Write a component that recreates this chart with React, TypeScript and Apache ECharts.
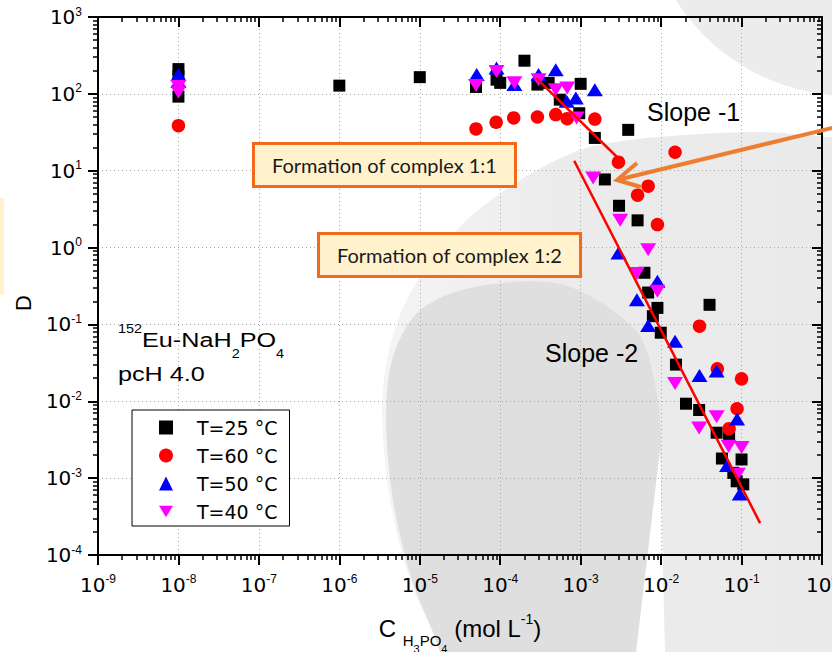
import React, { useEffect, useRef } from 'react';
import * as echarts from 'echarts';

// Distribution ratio D of 152Eu vs. phosphate concentration, four temperatures
const seriesNames = ['T=25 °C', 'T=60 °C', 'T=50 °C', 'T=40 °C'];

const t25: number[][] = [
  [1e-8, 210], [1e-8, 170], [1e-8, 92], [1e-6, 128], [1e-5, 165], [5e-5, 123],
  [9e-5, 153], [1e-4, 139], [2e-4, 270], [2.9e-4, 132], [4e-4, 139], [5.5e-4, 84],
  [1e-3, 135], [9.6e-4, 56], [1.5e-3, 26.7], [3.9e-3, 34], [2e-3, 7.7], [3e-3, 3.5],
  [5.1e-3, 2.26], [6.2e-3, 0.47], [6.9e-3, 0.26], [9e-3, 0.164], [7.9e-3, 0.128],
  [9.9e-3, 0.078], [0.04, 0.18], [0.0153, 0.03], [0.0204, 0.0093], [0.0297, 0.0077],
  [0.049, 0.0039], [0.07, 0.0035], [0.057, 0.0018], [0.1, 0.00175], [0.079, 0.00117],
  [0.105, 0.00083], [0.087, 0.00091],
];

const t60: number[][] = [
  [1e-8, 38.6], [5e-5, 35], [8.9e-5, 42.7], [1.47e-4, 48.6], [2.9e-4, 50], [4.9e-4, 53.7],
  [6.8e-4, 47.6], [1.5e-3, 47], [2.95e-3, 12.9], [6.9e-3, 6.3], [5.1e-3, 4.8],
  [0.0149, 17.4], [9e-3, 1.99], [0.03, 0.095], [0.05, 0.0265], [0.1, 0.0196],
  [0.088, 0.008], [0.07, 0.0044],
];

const t50: number[][] = [
  [1e-8, 178], [1e-8, 145], [5.1e-5, 178], [9e-5, 217], [1.5e-4, 132], [3e-4, 178],
  [4.9e-4, 206], [6.7e-4, 80], [8.7e-4, 88], [1.5e-3, 113], [2.95e-3, 0.85],
  [9e-3, 0.365], [5e-3, 0.21], [6.9e-3, 0.097], [0.0149, 0.0605], [0.03, 0.0217],
  [0.049, 0.0247], [0.088, 0.0059], [0.066, 0.00146], [0.095, 0.00062],
];

const t40: number[][] = [
  [1e-8, 125], [1e-8, 105], [5e-5, 128], [9e-5, 196], [1.5e-4, 139], [3e-4, 153],
  [4.9e-4, 113], [6.8e-4, 119], [8.9e-4, 48.6], [1.43e-3, 8.05], [3.1e-3, 2.26],
  [6.9e-3, 0.94], [5e-3, 0.46], [9e-3, 0.27], [0.0149, 0.017], [0.0297, 0.0045],
  [0.049, 0.0063], [0.069, 0.0026], [0.1, 0.0025], [0.09, 0.00112],
];

// fitted lines: slope -1 and slope -2 in log-log space
const fitSlope1: number[][] = [[2.8e-4, 160], [3.4e-3, 12.5]];
const fitSlope2: number[][] = [[8.3e-4, 13.5], [0.17, 2.6e-4]];

const xRange = [1e-9, 1];
const yRange = [1e-4, 1e3];

const powLabel = (v: number) => {
  const e = Math.round(Math.log10(v));
  return `{b|10}{s|${e}}`;
};

const tickRich = {
  b: { fontSize: 20, fontFamily: 'DejaVu Sans', color: '#000' },
  s: { fontSize: 12, fontFamily: 'Liberation Sans', color: '#000', padding: [0, 0, 11, 0] },
};

const axisLine = { show: true, onZero: false, lineStyle: { color: '#000', width: 2 } };
const minorTick = {
  show: true,
  splitNumber: 9,
  length: 5,
  lineStyle: { color: '#000', width: 1.5 },
};
const grid = { show: true, lineStyle: { color: '#A8A8A8', width: 1, type: [1, 3] } };

const FONT = 'Liberation Sans';

function buildOption() {
  const markerBase = { type: 'scatter', xAxisIndex: 0, yAxisIndex: 0 };
  return {
    animation: false,
    backgroundColor: '#ffffff',
    grid: { left: 98, right: 10, top: 17, bottom: 97, containLabel: false, outerBoundsMode: 'none' },
    legend: {
      data: seriesNames,
      orient: 'vertical',
      left: 132,
      top: 410,
      padding: [8, 12, 5, 27],
      itemWidth: 14,
      itemHeight: 14,
      itemGap: 9,
      backgroundColor: '#ffffff',
      borderColor: '#000',
      borderWidth: 1,
      borderRadius: 0,
      textStyle: { fontSize: 19, fontFamily: 'DejaVu Sans', color: '#000', padding: [0, 0, 0, 19] },
      z: 20,
    },
    xAxis: [
      {
        type: 'log', logBase: 10, min: xRange[0], max: xRange[1], position: 'bottom',
        axisLine, axisTick: { show: true, length: 10, inside: false, lineStyle: { color: '#000', width: 2 } },
        minorTick, splitLine: grid,
        axisLabel: { formatter: powLabel, rich: tickRich, margin: 18, showMinLabel: true, showMaxLabel: true },
        name: '{m|C }{s|H}{ss|3}{s|PO}{ss|4}{m| (mol L}{sup|-1}{m|)}',
        nameLocation: 'middle', nameGap: 48,
        nameTextStyle: {
          rich: {
            m: { fontSize: 24, fontFamily: FONT, color: '#000' },
            s: { fontSize: 15, fontFamily: FONT, color: '#000', padding: [24, 0, 0, 0] },
            ss: { fontSize: 11, fontFamily: FONT, color: '#000', padding: [40, 0, 0, 0] },
            sup: { fontSize: 14, fontFamily: FONT, color: '#000', padding: [0, 0, 20, 0] },
          },
        },
      },
      {
        type: 'log', logBase: 10, min: xRange[0], max: xRange[1], position: 'top',
        axisLine, axisTick: { show: true, length: 10, inside: true, lineStyle: { color: '#000', width: 2 } },
        minorTick, splitLine: { show: false }, axisLabel: { show: false },
      },
    ],
    yAxis: [
      {
        type: 'log', logBase: 10, min: yRange[0], max: yRange[1], position: 'left',
        axisLine, axisTick: { show: true, length: 10, inside: false, lineStyle: { color: '#000', width: 2 } },
        minorTick, splitLine: grid,
        axisLabel: { formatter: powLabel, rich: tickRich, margin: 16, showMinLabel: true, showMaxLabel: true },
        name: 'D', nameLocation: 'middle', nameGap: 62,
        nameTextStyle: { fontSize: 22, fontFamily: FONT, color: '#000', padding: [0, 34, 0, 0] },
      },
      {
        type: 'log', logBase: 10, min: yRange[0], max: yRange[1], position: 'right',
        axisLine, axisTick: { show: true, length: 10, inside: true, lineStyle: { color: '#000', width: 2 } },
        minorTick, splitLine: { show: false }, axisLabel: { show: false },
      },
    ],
    series: [
      { ...markerBase, name: seriesNames[0], data: t25, symbol: 'rect', symbolSize: 12, itemStyle: { color: '#000000', opacity: 1 }, z: 3 },
      { ...markerBase, name: seriesNames[1], data: t60, symbol: 'circle', symbolSize: 13.5, itemStyle: { color: '#FF0000', opacity: 1 }, z: 4 },
      { ...markerBase, name: seriesNames[2], data: t50, symbol: 'triangle', symbolSize: [16, 13], itemStyle: { color: '#0000FF', opacity: 1 }, z: 5 },
      { ...markerBase, name: seriesNames[3], data: t40, symbol: 'path://M0,0L16,0L8,13Z', symbolSize: [16, 13], itemStyle: { color: '#FF00FF', opacity: 1 }, z: 6 },
      { type: 'line', name: 'fit1', data: fitSlope1, symbol: 'none', lineStyle: { color: '#FF0000', width: 2.5 }, z: 7, silent: true },
      { type: 'line', name: 'fit2', data: fitSlope2, symbol: 'none', lineStyle: { color: '#FF0000', width: 2.5 }, z: 7, silent: true },
    ],
    graphic: {
      elements: [
        // soft grey backdrop
        { type: 'circle', silent: true, z: -10, shape: { cx: 850, cy: -110, r: 206 }, style: { fill: '#ECECEC' } },
        {
          type: 'polygon', silent: true, z: -10,
          shape: {
            smooth: 0.3,
            points: [[900, 140], [832, 137], [760, 132], [700, 134], [630, 140], [580, 150], [520, 180], [467, 220],
              [428, 265], [402, 310], [387, 360], [382, 415], [390, 500], [410, 580], [440, 652], [450, 720], [900, 720]],
          },
          style: {
            fill: new echarts.graphic.LinearGradient(0, 0, 1, 0, [
              { offset: 0, color: '#F4F4F4' }, { offset: 0.35, color: '#EBEBEB' }, { offset: 1, color: '#EAEAEA' },
            ]),
          },
        },
        {
          type: 'polygon', silent: true, z: -9,
          shape: {
            smooth: 0.3,
            points: [[513, 282], [560, 284], [600, 302], [640, 336], [657, 395], [661, 450], [652, 550], [640, 652],
              [630, 720], [450, 720], [440, 652], [412, 580], [393, 500], [386, 420], [392, 360], [415, 315], [455, 292]],
          },
          style: { fill: '#DFDFDF' },
        },
        { type: 'polygon', silent: true, z: -8, shape: { points: [[660, 450], [665, 652], [636, 652]] }, style: { fill: '#FFFFFF' } },
        { type: 'rect', silent: true, z: -10, shape: { x: 0, y: 198, width: 4, height: 97 }, style: { fill: '#FFF2CC' } },

        // sample description
        {
          type: 'text', z: 50, x: 118, y: 340, scaleX: 1.2,
          style: {
            text: '{sp|152}{m|Eu-NaH}{sb|2}{m|PO}{sb|4}', align: 'left', verticalAlign: 'middle',
            rich: {
              m: { fontSize: 21, fontFamily: FONT, fill: '#000' },
              sp: { fontSize: 12, fontFamily: FONT, fill: '#000', padding: [0, 0, 23, 0] },
              sb: { fontSize: 12, fontFamily: FONT, fill: '#000', padding: [27, 0, 0, 0] },
            },
          },
        },
        {
          type: 'text', z: 50, x: 118, y: 374, scaleX: 1.2,
          style: { text: 'pcH 4.0', fontSize: 21, fontFamily: FONT, fill: '#000', align: 'left', verticalAlign: 'middle' },
        },
        { type: 'text', z: 50, x: 647, y: 111.5, style: { text: 'Slope -1', fontSize: 25, fontFamily: FONT, fill: '#000', verticalAlign: 'middle' } },
        { type: 'text', z: 50, x: 545, y: 353, style: { text: 'Slope -2', fontSize: 25, fontFamily: FONT, fill: '#000', verticalAlign: 'middle' } },

        // callout boxes
        { type: 'rect', z: 40, shape: { x: 253.5, y: 143.5, width: 262, height: 43 }, style: { fill: '#FFF2CC', stroke: '#F26B1D', lineWidth: 3 } },
        { type: 'text', z: 41, x: 384.5, y: 165, style: { text: 'Formation of complex 1:1', fontSize: 20, fontFamily: 'Lato', fill: '#1A1A1A', align: 'center', verticalAlign: 'middle' } },
        { type: 'rect', z: 40, shape: { x: 318.5, y: 233.5, width: 262, height: 43 }, style: { fill: '#FFF2CC', stroke: '#F26B1D', lineWidth: 3 } },
        { type: 'text', z: 41, x: 449.5, y: 255, style: { text: 'Formation of complex 1:2', fontSize: 20, fontFamily: 'Lato', fill: '#1A1A1A', align: 'center', verticalAlign: 'middle' } },

        // arrow pointing at the slope -1 segment
        { type: 'line', z: 60, shape: { x1: 834, y1: 127.5, x2: 619, y2: 179.5 }, style: { stroke: '#ED7D31', lineWidth: 4 } },
        { type: 'polyline', z: 60, shape: { points: [[637, 163], [617, 180], [641, 187]] }, style: { stroke: '#ED7D31', lineWidth: 4, fill: null } },
      ],
    },
  };
}

export default function App() {
  const ref = useRef<HTMLDivElement>(null);
  useEffect(() => {
    if (!ref.current) return;
    const chart = echarts.init(ref.current, null, { renderer: 'svg', width: 832, height: 652 });
    chart.setOption(buildOption() as any);
    return () => chart.dispose();
  }, []);
  return (
    <div
      ref={ref}
      style={{ position: 'fixed', left: 0, top: 0, width: 832, height: 652, background: '#ffffff' }}
    />
  );
}
